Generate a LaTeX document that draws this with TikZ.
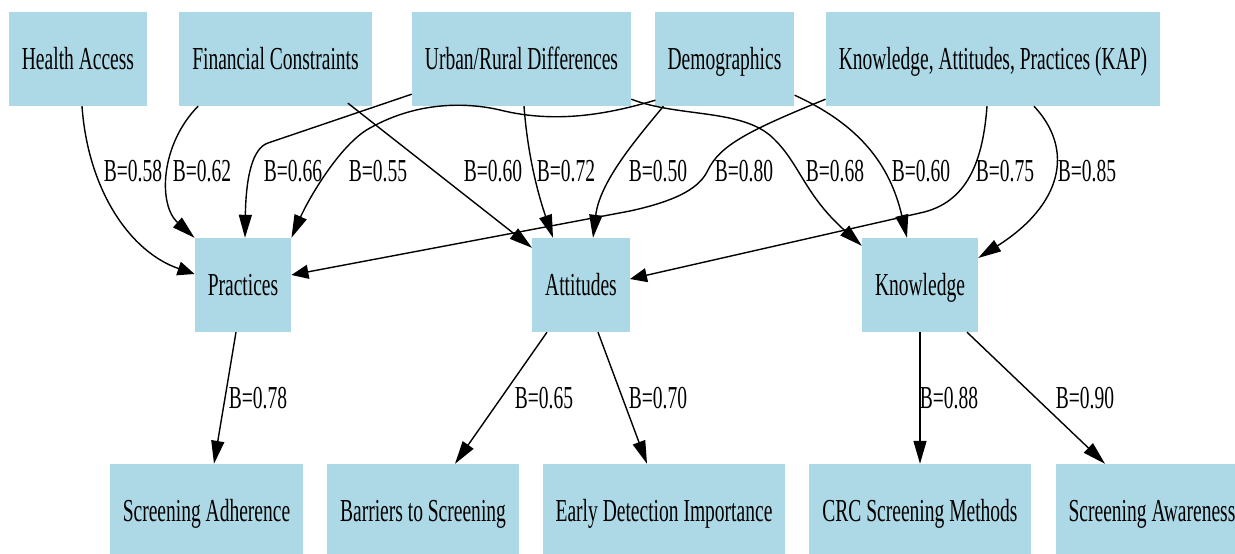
\documentclass[tikz,border=0pt]{standalone}
\usepackage{fontspec}
\setmainfont{Liberation Serif}[FakeStretch=0.61]
\usepackage{tikz}
\usetikzlibrary{arrows.meta}
\definecolor{boxblue}{HTML}{ADD8E6}

\begin{document}
\begin{tikzpicture}[
x=1pt, y=-1pt,
box/.style={fill=boxblue, minimum height=94pt, inner xsep=13pt, text height=24pt, text depth=4pt, font=\fontsize{32}{36}\selectfont},
lbl/.style={inner sep=0pt, font=\fontsize{32}{36}\selectfont},
arr/.style={-{Triangle[length=23pt,width=13pt]}, line width=1.4pt},
arrh/.style={-{Triangle[length=17pt,width=14pt]}, line width=1.4pt}
]
\useasboundingbox (0,0) rectangle (1235,554);
\node[box] (ha) at (78,59) {Health Access};
\node[box] (fc) at (275.5,59) {Financial Constraints};
\node[box] (ur) at (521.5,59) {Urban/Rural Differences};
\node[box] (dem) at (724.5,59) {Demographics};
\node[box] (kap) at (993,59) {Knowledge, Attitudes, Practices (KAP)};
\node[box] (pr) at (243,285) {Practices};
\node[box] (att) at (581,285) {Attitudes};
\node[box] (kn) at (920,285) {Knowledge};
\node[box] (sa) at (206.5,511) {Screening Adherence};
\node[box] (bs) at (423,511) {Barriers to Screening};
\node[box] (ed) at (664,511) {Early Detection Importance};
\node[box] (crc) at (920,511) {CRC Screening Methods};
\node[box] (aw) at (1152,511) {Screening Awareness};
\draw[arrh] ([shift={(4,0)}]ha.south) .. controls (88,190) and (130,252) .. ([shift={(0,-11)}]pr.west);
\draw[arr] ([shift={(19,0)}]fc.south west) .. controls (160,145) and (158,205) .. (pr.north west);
\draw[arr] ([shift={(0,-12)}]ur.south west) -- (268,143) .. controls (253,148) and (246,175) .. ([shift={(2,0)}]pr.north);
\draw[arr] ([shift={(1,-6)}]dem.south west) .. controls (615,112) and (560,125) .. (500,110)
  .. controls (470,103) and (420,100) .. (370,128) .. controls (340,144) and (308,200) .. (pr.north east);
\draw[arr] ([shift={(-24,-3)}]fc.south east) -- ([shift={(0,10)}]att.north west);
\draw[arr] ([shift={(2.5,0)}]ur.south) .. controls (528,160) and (540,200) .. ([shift={(-28,0)}]att.north);
\draw[arr] ([shift={(9,0)}]dem.south west) .. controls (640,135) and (600,180) .. ([shift={(12,0)}]att.north);
\draw[arrh] ([shift={(0,-7)}]kap.south west) .. controls (750,130) and (720,145) .. (708,170)
  .. controls (700,187) and (680,200) .. (630,211) -- ([shift={(0,-10)}]pr.east);
\draw[arr] ([shift={(0,-7)}]ur.south east) .. controls (680,118) and (745,108) .. (775,140)
  .. controls (800,165) and (805,195) .. ([shift={(0,8)}]kn.north west);
\draw[arr] ([shift={(0,-11)}]dem.south east) .. controls (860,125) and (890,165) .. ([shift={(-13,0)}]kn.north);
\draw[arrh] ([shift={(-6,0)}]kap.south) .. controls (983,160) and (968,203) .. (920,213) -- ([shift={(0,-6)}]att.east);
\draw[arr] ([shift={(41,0)}]kap.south) .. controls (1075,150) and (1062,205) .. ([shift={(0,-27)}]kn.east);
\draw[arr] ([shift={(-7,0)}]pr.south) -- ([shift={(7.5,0)}]sa.north);
\draw[arr] ([shift={(-34,0)}]att.south) -- ([shift={(32,0)}]bs.north);
\draw[arr] ([shift={(17,0)}]att.south) -- ([shift={(-17,0)}]ed.north);
\draw[arr] (kn.south) -- (crc.north);
\draw[arr] ([shift={(47,0)}]kn.south) -- ([shift={(-47,0)}]aw.north);
\node[lbl] (l1) at (133,171) {B=0.58};
\node[lbl] (l2) at (202,171) {B=0.62};
\node[lbl] (l3) at (293,171) {B=0.66};
\node[lbl] (l4) at (378,171) {B=0.55};
\node[lbl] (l5) at (493,171) {B=0.60};
\node[lbl] (l6) at (566,171) {B=0.72};
\node[lbl] (l7) at (658,171) {B=0.50};
\node[lbl] (l8) at (744,171) {B=0.80};
\node[lbl] (l9) at (835,171) {B=0.68};
\node[lbl] (l10) at (921,171) {B=0.60};
\node[lbl] (l11) at (1005,171) {B=0.75};
\node[lbl] (l12) at (1087,171) {B=0.85};
\node[lbl] (l13) at (258,398) {B=0.78};
\node[lbl] (l14) at (544,398) {B=0.65};
\node[lbl] (l15) at (658,398) {B=0.70};
\node[lbl] (l16) at (949,398) {B=0.88};
\node[lbl] (l17) at (1085,398) {B=0.90};
\end{tikzpicture}
\end{document}
